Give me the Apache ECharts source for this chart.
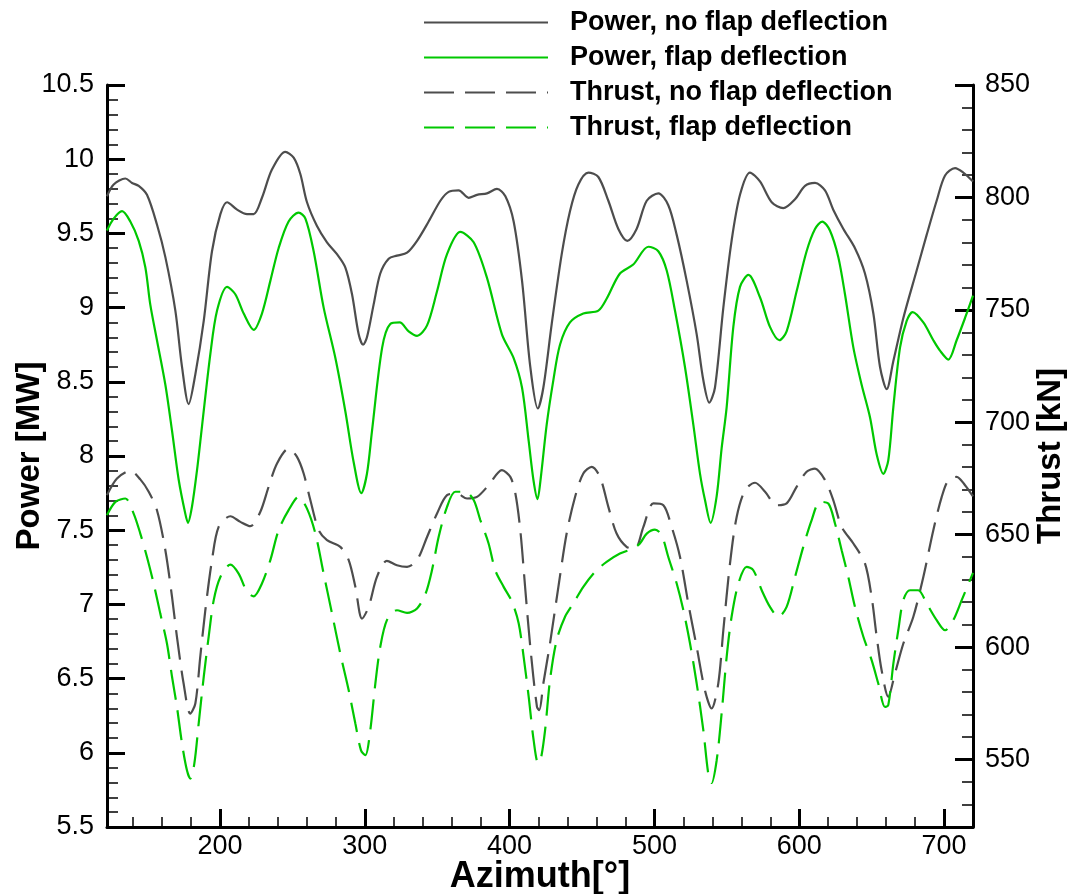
<!DOCTYPE html>
<html>
<head>
<meta charset="utf-8">
<script src="https://cdn.jsdelivr.net/npm/echarts@6/dist/echarts.min.js"></script>
<style>
  html, body { margin: 0; padding: 0; background: #fff; }
  #chart { width: 1070px; height: 894px; }
</style>
</head>
<body>
<div id="chart"></div>
<script>
// ---- Data ----
const azPowerNoFlap = [122,126.6,134.7,139.3,143.9,149.6,156.5,162.3,169.2,173.8,178.4,183,188.8,194.5,200.3,204.9,211.8,218.7,223.3,229,235.9,245.1,250.9,255.5,260.1,267,273.9,280.8,286.6,291.2,295.8,298.8,301.5,306.1,310.7,316.5,322.2,329.2,336.1,344.1,352.2,357.9,364.8,371.7,377.5,384.4,391.3,397.1,402.8,408.6,414.3,419.5,423.3,429.1,436,441.7,447.5,454.4,461.3,468.2,475.1,481.3,487.7,494.7,502.7,509.6,515.4,522.3,529.2,533.8,537.9,541.8,547.6,553.3,559.1,566,572.9,581,589,597.1,604,610.9,617.8,623.5,630.5,638.5,645.4,651.2,655.8,660.4,665,671.9,681.1,688,694.9,700.7,707.6,713.3,720];
const powerNoFlap = [9.75,9.83,9.87,9.84,9.82,9.76,9.56,9.34,8.98,8.60,8.35,8.55,8.91,9.38,9.63,9.71,9.66,9.63,9.63,9.74,9.93,10.05,10.01,9.90,9.71,9.55,9.44,9.36,9.27,9.09,8.82,8.75,8.80,9.02,9.23,9.33,9.35,9.37,9.45,9.58,9.72,9.78,9.79,9.74,9.76,9.77,9.80,9.75,9.58,9.18,8.60,8.32,8.46,8.89,9.36,9.65,9.83,9.91,9.88,9.72,9.53,9.45,9.53,9.72,9.77,9.69,9.49,9.18,8.82,8.51,8.36,8.46,9.00,9.45,9.76,9.91,9.85,9.71,9.67,9.73,9.82,9.84,9.79,9.66,9.53,9.40,9.23,8.96,8.60,8.45,8.64,8.93,9.25,9.49,9.72,9.89,9.94,9.91,9.85];

const azPowerFlap = [122,126.6,132.4,138.1,143.9,148.5,151.9,156.5,162.3,166.9,171.5,176.1,177.9,180.7,184.1,187.6,193.4,198,204.9,210.6,216.4,223.3,229,234.8,240.5,247.4,254.3,259,264.7,271.6,279.7,286.6,292.3,297.6,301.5,305,312,317.6,324.1,330.3,336.1,343,349.9,356.8,366,375.2,384.4,394.7,402.8,408.6,413.2,416.6,419.3,421.5,425.6,430.2,434.8,441.7,450.9,461.3,467,476.2,485.4,495.8,502.7,508.5,514.2,521.1,526.9,531.5,535,538.8,543,546.4,549.9,554.5,559.1,564.9,572.9,579.8,586.3,591.3,598.2,605.1,610.9,615.9,621.2,627,631.6,637.4,643.1,648.9,653.5,658.1,661.5,665,669.6,674.2,678.3,685.7,692.6,697.2,703,708.7,714.5,720];
const powerFlap = [9.52,9.60,9.65,9.58,9.45,9.27,9.02,8.78,8.48,8.17,7.84,7.61,7.55,7.66,7.90,8.20,8.69,8.98,9.14,9.09,8.96,8.85,8.96,9.18,9.40,9.58,9.64,9.60,9.38,9.00,8.66,8.30,7.96,7.75,7.88,8.17,8.73,8.89,8.90,8.84,8.81,8.88,9.11,9.36,9.51,9.44,9.20,8.82,8.66,8.46,8.10,7.83,7.71,7.85,8.21,8.51,8.75,8.90,8.96,8.98,9.06,9.23,9.29,9.41,9.38,9.25,8.98,8.60,8.21,7.88,7.70,7.55,7.73,8.05,8.33,8.87,9.14,9.22,9.07,8.87,8.78,8.84,9.11,9.38,9.53,9.58,9.52,9.34,9.09,8.73,8.48,8.26,8.01,7.88,7.97,8.33,8.73,8.91,8.97,8.90,8.78,8.71,8.65,8.78,8.93,9.08];

const azThrustNoFlap = [122,128.9,138.1,145,150.8,156.5,162.3,166.9,170.3,174.9,179.5,183,186.4,189.9,194.5,199.1,207.2,214.1,221,227.9,233.6,239.4,247.4,253.2,257.8,262.4,268.2,273.9,283.1,288.9,293.5,298.1,302.7,308.4,315.3,322.2,329.2,336.1,343,349.9,356.8,363.7,370.6,377.5,385.5,394.7,400.5,404,407.4,410.9,414.3,418.9,420.5,423.3,427.9,433.7,439.4,445.2,450.9,456.7,462.4,468.2,473.9,480.8,486.6,492.4,499.3,506.2,511.9,517.7,523.4,529.2,534.9,539.5,544.1,547.6,552.2,556.8,562.6,569.5,576.4,584.4,591.3,598.2,605.1,610.9,617.8,623.5,629.3,637.4,645.4,650,653.5,656.9,661.5,666.1,671.9,678.8,685.7,692.6,698.4,703,708.7,714.5,720];
const thrustNoFlap = [667.6,675,678.4,674.6,669.1,660.9,643.1,622.3,604.6,583.8,570.4,574.9,595.7,616.4,638.7,653.5,658.2,655.7,653.8,660.2,671.3,681.7,688.3,684.6,677.2,665.4,652.0,647.6,644.6,638.7,626.8,612.7,617.9,631.2,638.4,636.4,635.7,638.7,649.0,659.4,667.6,668.3,666.1,666.8,672.0,678.7,675.7,668.3,652.0,625.3,600.1,573.4,572,583.8,601.6,626.8,650.5,666.8,677.2,680.2,675.7,662.4,650.5,644.6,643.9,653.5,663.9,663.1,653.5,640.1,619.4,600.1,580.8,572.7,583.8,607.5,637.2,657.9,669.8,673.1,669.1,663.1,663.9,671.3,678,679.4,674.3,665.4,653.5,646.1,637.2,622.3,604.6,589.7,577.9,588.2,601.6,613.5,631.2,652,666.8,674.3,675.7,672,667];

const azThrustFlap = [122,127.8,134.7,140.4,145,149.6,154.2,158.8,163.4,166.9,170.3,173.8,177.2,179.5,182.3,185.3,188.8,192.2,195.7,200.3,207.2,212.9,218.7,223.3,229,234.8,240.5,247.4,254.3,260.1,265.9,271.6,277.4,283.1,288.9,293.5,297.4,300.4,303.8,307.3,310.7,315.3,322.2,329.2,336.1,342,346.4,351,356.8,362.5,369.4,375.2,379.8,385.5,390.1,395.9,401.7,406.3,409.7,413.2,416.6,419.7,421.5,424.5,427.9,432.5,438.3,444,450.9,459,467,476.2,485.4,490,494.7,500.4,505,509.6,515.4,520,524.6,529.2,533.8,537.2,539.5,543,546.4,549.9,553.3,558,563.7,568.3,574.1,579.8,585.6,591.3,597.1,602.8,608.6,614.3,620.1,624.7,629.3,633.9,638.5,644.3,650,654.6,659.2,661.5,665,668.4,671.9,676.5,682.2,688,694.9,700.7,706.4,712.2,720];
const thrustFlap = [658.7,664.6,666.1,659.4,650.5,640.1,628.3,614.9,601.6,586.8,573.4,557.1,545.2,541.5,548.2,566,586.8,604.6,620.9,631.2,636.7,632.7,624.6,622.6,628.3,638.7,652,660.9,666.8,661.6,650.5,632.7,614.9,597.1,580.8,566,554.1,551.9,563,583.8,600.1,612,616.4,615.2,617.2,623.8,634.2,649,662.4,669.1,669.1,665.4,656.5,646.1,634.2,626.8,620.1,610.5,595.7,577.9,558.6,548.5,550,563,585.3,603.1,613.5,619.4,626.8,633.5,637.9,641.6,643.9,646.1,650.5,652.3,649.8,640.1,628.3,616.4,601.6,583.8,563,543.7,539.6,549.7,570.4,595.7,613.5,628.3,635.7,634.2,625.3,617.9,613.5,617.9,631.2,644.6,656.5,664.6,663.9,655,643.1,631.2,617.9,604.6,594.2,583.8,573.4,574.2,592.7,607.5,620.9,625.3,625.3,619.4,612,607.5,612,620.9,633];

// ---- Tick labels ----
const xTickValues = [200, 300, 400, 500, 600, 700];
const xMinorTickValues = [140,160,180,220,240,260,280,320,340,360,380,420,440,460,480,520,540,560,580,620,640,660,680];
const thrustTickValues = [550, 600, 650, 700, 750, 800, 850];
const thrustMinorTickValues = [530,540,560,570,580,590,610,620,630,640,660,670,680,690,710,720,730,740,760,770,780,790,810,820,830,840];

const seriesNames = ['Power, no flap deflection', 'Power, flap deflection', 'Thrust, no flap deflection', 'Thrust, flap deflection'];

function zip(xs, ys) { return xs.map((x, i) => [x, ys[i]]); }

const FONT = 'Liberation Sans';
const GREY = '#4d4d4d';
const GREEN = '#00c800';
const DASH = [30, 11];

const chart = echarts.init(document.getElementById('chart'), null, { renderer: 'canvas' });

const commonLabel = { color: '#000', fontSize: 27, fontFamily: FONT };
const minorAxisBase = {
  type: 'value',
  axisLine: { show: false }, axisLabel: { show: false }, splitLine: { show: false },
  silent: true
};

chart.setOption({
  animation: false,
  backgroundColor: '#fff',
  grid: { left: 107, right: 97, top: 85, bottom: 67, outerBoundsMode: 'none', containLabel: false },
  legend: {
    orient: 'vertical', left: 423, top: 9, padding: 0,
    itemWidth: 124, itemHeight: 26, itemGap: 8,
    data: seriesNames,
    itemStyle: { opacity: 0 },
    textStyle: { color: '#000', fontSize: 27, fontWeight: 'bold', fontFamily: FONT, padding: [0, 0, 0, 17], lineHeight: 26 }
  },
  xAxis: [
    {
      type: 'value', min: 122, max: 720, position: 'bottom',
      axisLine: { show: true, onZero: false, lineStyle: { color: '#000', width: 3 } },
      axisTick: { show: true, inside: true, length: 18, customValues: xTickValues, lineStyle: { color: '#000', width: 3 } },
      axisLabel: Object.assign({ margin: 6, customValues: xTickValues }, commonLabel),
      splitLine: { show: false },
      name: 'Azimuth[°]', nameLocation: 'middle', nameGap: 32, nameMoveOverlap: false,
      nameTextStyle: { color: '#000', fontSize: 36, fontWeight: 'bold', fontFamily: FONT }
    },
    Object.assign({}, minorAxisBase, {
      min: 122, max: 720, position: 'bottom',
      axisLine: { show: false, onZero: false },
      axisTick: { show: true, inside: true, length: 10, customValues: xMinorTickValues, lineStyle: { color: '#000', width: 1.5 } }
    })
  ],
  yAxis: [
    {
      type: 'value', min: 5.5, max: 10.5, interval: 0.5, position: 'left',
      axisLine: { show: true, onZero: false, lineStyle: { color: '#000', width: 3 } },
      axisTick: { show: true, inside: true, length: 18, lineStyle: { color: '#000', width: 3 } },
      minorTick: { show: true, splitNumber: 5, length: 11, lineStyle: { color: '#000', width: 1.5 } },
      axisLabel: Object.assign({ margin: 13 }, commonLabel),
      splitLine: { show: false }, minorSplitLine: { show: false },
      name: 'Power [MW]', nameLocation: 'middle', nameRotate: 90, nameGap: 61, nameMoveOverlap: false,
      nameTextStyle: { color: '#000', fontSize: 33, fontWeight: 'bold', fontFamily: FONT }
    },
    {
      type: 'value', min: 520, max: 850, position: 'right',
      axisLine: { show: true, onZero: false, lineStyle: { color: '#000', width: 3 } },
      axisTick: { show: true, inside: true, length: 18, customValues: thrustTickValues, lineStyle: { color: '#000', width: 3 } },
      axisLabel: Object.assign({ margin: 12, customValues: thrustTickValues }, commonLabel),
      splitLine: { show: false },
      name: 'Thrust [kN]', nameLocation: 'middle', nameRotate: 90, nameGap: 61, nameMoveOverlap: false,
      nameTextStyle: { color: '#000', fontSize: 33, fontWeight: 'bold', fontFamily: FONT }
    },
    Object.assign({}, minorAxisBase, {
      min: 520, max: 850, position: 'right',
      axisLine: { show: false, onZero: false },
      axisTick: { show: true, inside: true, length: 11, customValues: thrustMinorTickValues, lineStyle: { color: '#000', width: 1.5 } }
    })
  ],
  series: [
    { name: seriesNames[0], type: 'line', xAxisIndex: 0, yAxisIndex: 0, data: zip(azPowerNoFlap, powerNoFlap),
      symbol: 'none', smooth: 0.3, color: GREY, lineStyle: { color: GREY, width: 2.2 } },
    { name: seriesNames[1], type: 'line', xAxisIndex: 0, yAxisIndex: 0, data: zip(azPowerFlap, powerFlap),
      symbol: 'none', smooth: 0.3, color: GREEN, lineStyle: { color: GREEN, width: 2.2 } },
    { name: seriesNames[2], type: 'line', xAxisIndex: 0, yAxisIndex: 1, data: zip(azThrustNoFlap, thrustNoFlap),
      symbol: 'none', smooth: 0.3, color: GREY, lineStyle: { color: GREY, width: 2.2, type: DASH } },
    { name: seriesNames[3], type: 'line', xAxisIndex: 0, yAxisIndex: 1, data: zip(azThrustFlap, thrustFlap),
      symbol: 'none', smooth: 0.3, color: GREEN, lineStyle: { color: GREEN, width: 2.2, type: DASH } }
  ]
});
</script>
</body>
</html>
